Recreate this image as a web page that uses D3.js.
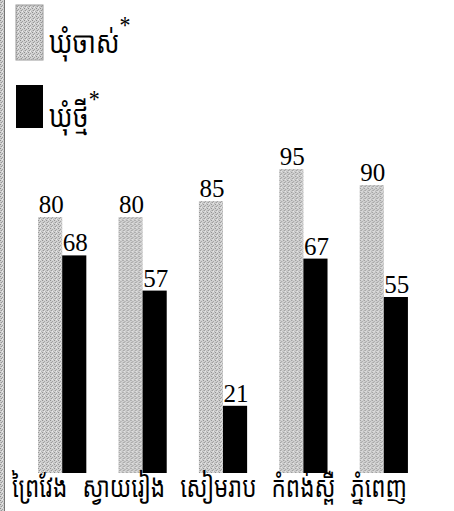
<!DOCTYPE html>
<html><head><meta charset="utf-8">
<script src="https://cdn.jsdelivr.net/npm/d3@7"></script>
<style>html,body{margin:0;padding:0;background:#fff;}svg{display:block;}</style>
</head><body>
<script>
const categories = ["ព្រៃវែង", "ស្វាយរៀង", "សៀមរាប", "កំពង់ស្ពឺ", "ភ្នំពេញ"];
const seriesNames = ["ឃុំចាស់", "ឃុំថ្មី"];
const oldValues = [80, 80, 85, 95, 90];
const newValues = [68, 57, 21, 67, 55];

const W = 454, H = 511;
const svg = d3.select("body").append("svg").attr("width", W).attr("height", H);
const defs = svg.append("defs");
const pat = defs.append("pattern").attr("id", "dots").attr("width", 4).attr("height", 4).attr("patternUnits", "userSpaceOnUse");
pat.append("rect").attr("width", 4).attr("height", 4).attr("fill", "#d2d2d2");
[[0,0,"#8c8c8c"],[2,1,"#a0a0a0"],[1,2,"#969696"],[3,3,"#b0b0b0"],[2,3,"#ececec"],[0,2,"#c0c0c0"]].forEach(p =>
  pat.append("rect").attr("x", p[0]).attr("y", p[1]).attr("width", 1).attr("height", 1).attr("fill", p[2]));

// left border
svg.append("rect").attr("x", 0).attr("y", 0).attr("width", 4).attr("height", H).attr("fill", "url(#dots)");
svg.append("line").attr("x1", 4.5).attr("x2", 4.5).attr("y1", 0).attr("y2", H).attr("stroke", "#777").attr("stroke-width", 1);

const baseline = 473;
const y = d3.scaleLinear().domain([0, 100]).range([baseline, baseline - 320]);
const x0 = d3.scaleBand().domain(categories).range([22, 424]).paddingInner(0.4).paddingOuter(0.2);
const x1 = d3.scaleBand().domain([0, 1]).range([0, x0.bandwidth()]);

const data = categories.map((c, i) => ({c, vals: [oldValues[i], newValues[i]]}));
const fills = ["url(#dots)", "#000"];

const g = svg.selectAll("g.grp").data(data).join("g").attr("class", "grp")
  .attr("transform", d => `translate(${x0(d.c)},0)`);
g.selectAll("rect").data(d => d.vals).join("rect")
  .attr("x", (v, j) => x1(j)).attr("width", x1.bandwidth())
  .attr("y", v => y(v)).attr("height", v => baseline - y(v))
  .attr("fill", (v, j) => fills[j]);
g.selectAll("text.val").data(d => d.vals).join("text").attr("class", "val")
  .attr("x", (v, j) => x1(j) + x1.bandwidth() / 2 + 1).attr("y", v => y(v) - 4)
  .attr("text-anchor", "middle").style("font-family", "'Liberation Serif', 'Times New Roman', serif")
  .attr("font-size", 25).attr("fill", "#000").text(v => v);

// category labels laid out in a row, condensed horizontally
const khmerFont = "'Noto Sans Khmer', 'Khmer OS', sans-serif";
const rowStart = 12, rowEnd = 407, gap = 15;
const cats = svg.selectAll("text.cat").data(categories).join("text").attr("class", "cat")
  .style("font-family", khmerFont).attr("font-size", 28).attr("fill", "#000").text(c => c);
const widths = [];
cats.each(function() { widths.push(this.getComputedTextLength()); });
const sx = (rowEnd - rowStart - gap * (categories.length - 1)) / d3.sum(widths);
let cx = rowStart;
cats.each(function(d, i) {
  d3.select(this).attr("transform", `translate(${cx},497) scale(${sx},1)`);
  cx += widths[i] * sx + gap;
});

// legend
const leg = [{y: 5, h: 55, ty: 53}, {y: 85, h: 43, ty: 127}];
const lg = svg.selectAll("g.leg").data(seriesNames).join("g").attr("class", "leg");
lg.append("rect").attr("x", 16).attr("y", (d, i) => leg[i].y).attr("width", 27).attr("height", (d, i) => leg[i].h)
  .attr("fill", (d, i) => fills[i]).attr("stroke", (d, i) => i === 0 ? "#999" : "none");
const lt = lg.append("text")
  .attr("transform", (d, i) => `translate(49,${leg[i].ty}) scale(${sx * 1.05},1)`)
  .style("font-family", khmerFont).attr("font-size", 30).attr("fill", "#000");
lt.append("tspan").text(d => d);
lt.append("tspan").attr("dy", -19).attr("font-size", 26).style("font-family", "'Liberation Serif', serif").text("*");
</script>
</body></html>
